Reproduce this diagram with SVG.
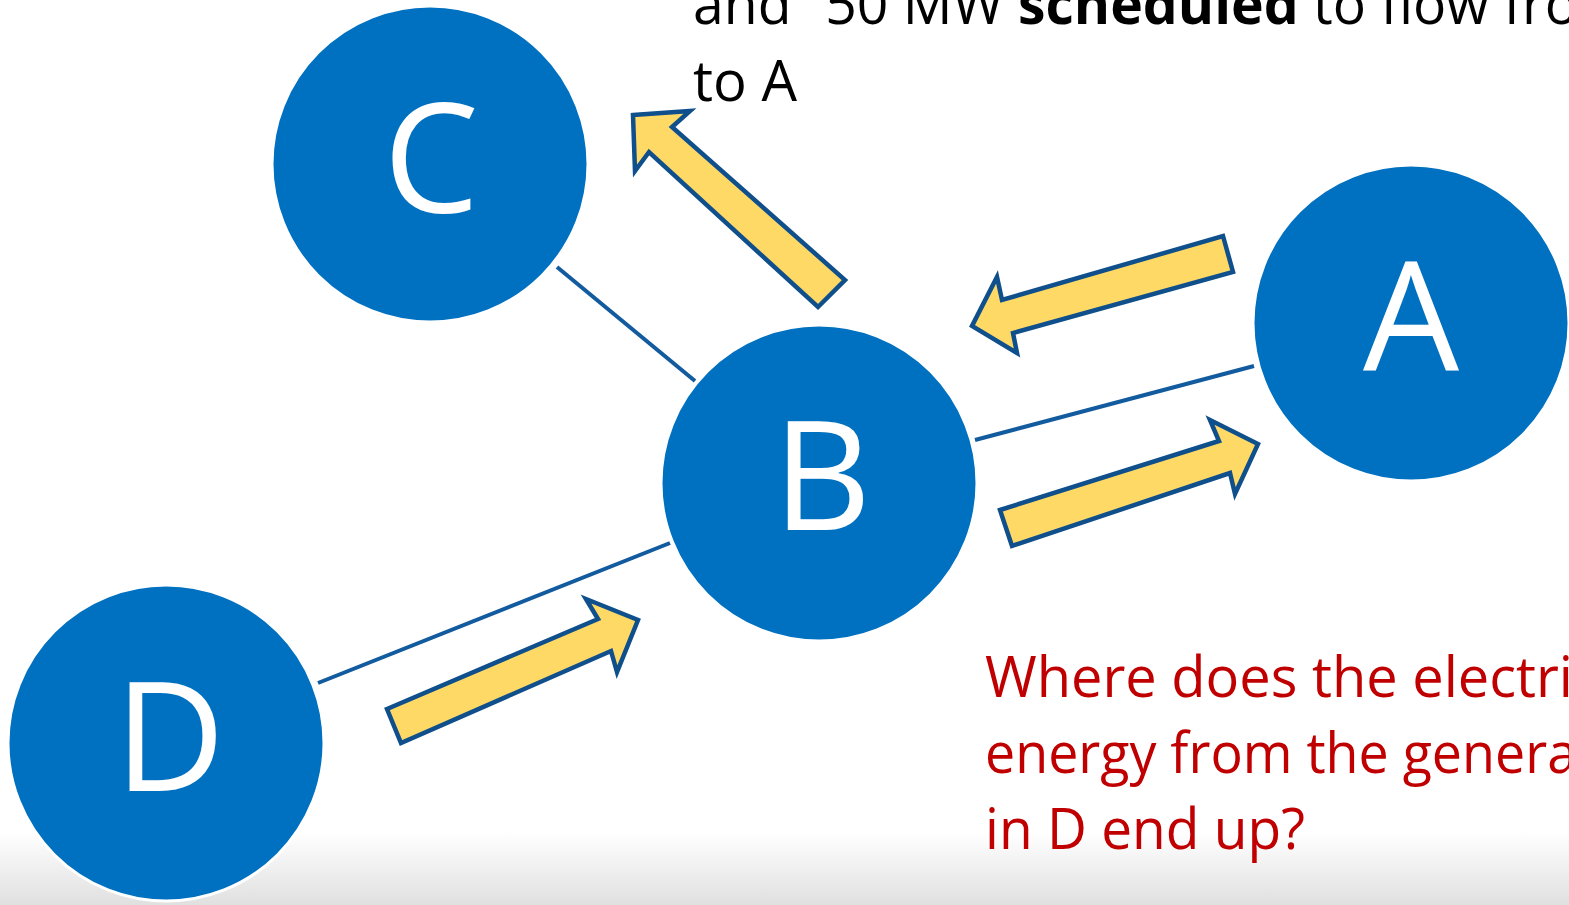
<svg xmlns="http://www.w3.org/2000/svg" width="1569" height="905" viewBox="0 0 1569 905">
<defs>
<linearGradient id="shade" x1="0" y1="0" x2="0" y2="1">
<stop offset="0" stop-color="#ffffff"/>
<stop offset="1" stop-color="#e0e0e0"/>
</linearGradient>
<style>
.node circle{fill:#0070C0;stroke:#ffffff;stroke-width:3}
.node text{fill:#ffffff;font-family:"Open Sans","Noto Sans",sans-serif;font-size:152px;text-anchor:middle}
.line{stroke:#135B9F;stroke-width:4;fill:none}
.arrow{fill:#FFD966;stroke:#0E4F8C;stroke-width:4.5;stroke-linejoin:miter}
.txt{font-family:"Open Sans","Noto Sans",sans-serif;font-size:56px}
</style>
</defs>
<rect x="0" y="0" width="1569" height="905" fill="#ffffff"/>
<rect x="0" y="832" width="1569" height="73" fill="url(#shade)"/>

<g id="connectors">
<line class="line" x1="557" y1="267" x2="695" y2="381"/>
<line class="line" x1="975" y1="440" x2="1254" y2="366"/>
<line class="line" x1="318" y1="683" x2="670" y2="543"/>
</g>

<g id="flow-arrows">
<polygon id="arrow-B-C" class="arrow" points="633,115 690,111 672,127 845,280 818,307 649,152 635,171"/>
<polygon id="arrow-A-B" class="arrow" points="1223,236 1233,272 1013,333 1017,353 972,326 997,277 1002,300"/>
<polygon id="arrow-B-A" class="arrow" points="1000,510 1219,441 1210,420 1258,444 1235,494 1230,473 1012,546"/>
<polygon id="arrow-D-B" class="arrow" points="387,709 598,619 586,599 638,620 617,672 611,651 401,743"/>
</g>

<g id="node-C" class="node">
<circle cx="430" cy="164" r="158"/>
<text x="431" y="213">C</text>
</g>
<g id="node-B" class="node">
<circle cx="819" cy="483" r="158"/>
<text x="822" y="530">B</text>
</g>
<g id="node-A" class="node">
<circle cx="1411" cy="323" r="158"/>
<text x="1411" y="371">A</text>
</g>
<g id="node-D" class="node">
<circle cx="166" cy="743" r="158"/>
<text x="170" y="791">D</text>
</g>

<g id="top-text" class="txt" fill="#000000">
<text x="693" y="24" textLength="885" lengthAdjust="spacingAndGlyphs">and “50 MW <tspan font-weight="bold">scheduled</tspan> to flow fro</text>
<text x="693" y="101" textLength="104" lengthAdjust="spacingAndGlyphs">to A</text>
</g>

<g id="question" class="txt" fill="#C00000">
<text x="985" y="697" textLength="588" lengthAdjust="spacingAndGlyphs">Where does the electri</text>
<text x="985" y="773" textLength="592" lengthAdjust="spacingAndGlyphs">energy from the genera</text>
<text x="985" y="849" textLength="320" lengthAdjust="spacingAndGlyphs">in D end up?</text>
</g>
</svg>
